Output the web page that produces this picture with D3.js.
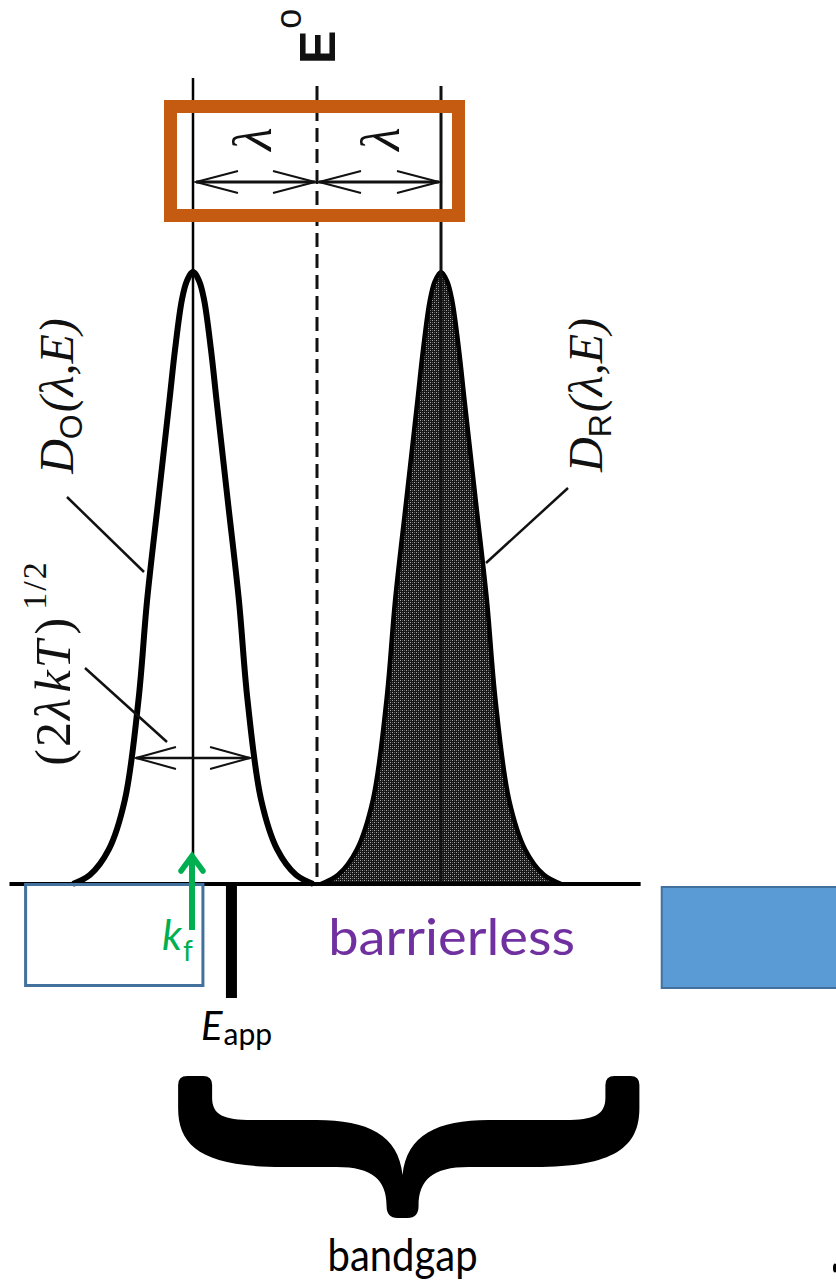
<!DOCTYPE html>
<html><head><meta charset="utf-8">
<script src="https://cdn.jsdelivr.net/npm/d3@7"></script>
<style>html,body{margin:0;padding:0;background:#fff;} svg{display:block;}</style>
</head><body>
<script>
// ---------------- data (energies in units of λ relative to E°) ----------------
const peakNames = ["O", "R"];
const peakCenters = [-1, 1];
const E0 = 0;
const profileOffsets = [0, 0.05, 0.09, 0.145, 0.19, 0.28, 0.37, 0.44, 0.55, 0.68, 0.83, 0.97];
const profileDensity = [1.0, 0.985, 0.954, 0.873, 0.79, 0.627, 0.464, 0.30, 0.137, 0.056, 0.015, 0];
const widthArrowDensity = 0.206;
const widthArrowHalf = 0.46;
const baselineRange = [-2.48, 2.61];
const Eapp = -0.69;
const kfPosition = -1;
const leftBoxRange = [-2.35, -0.92];
const rightBoxRange = [2.78, 4.3];
const bandgapRange = [-1.12, 2.6];
const bandgapCenter = 0.69;
const barrierlessRange = [0.09, 2.08];

// ---------------- setup ----------------
const W = 836, H = 1281;
const svg = d3.select("body").append("svg").attr("width", W).attr("height", H);
const x = d3.scaleLinear().domain([-1, 1]).range([193, 441]);
const y = d3.scaleLinear().domain([0, 1]).range([884, 272]);
const defs = svg.append("defs");

const pat = defs.append("pattern").attr("id", "stip").attr("width", 4).attr("height", 4)
  .attr("patternUnits", "userSpaceOnUse");
pat.append("rect").attr("width", 4).attr("height", 4).attr("fill", "#161616");
pat.append("rect").attr("x", 0).attr("y", 0).attr("width", 1).attr("height", 1).attr("fill", "#a8a8a8");
pat.append("rect").attr("x", 2).attr("y", 2).attr("width", 1).attr("height", 1).attr("fill", "#a8a8a8");
pat.append("rect").attr("x", 2).attr("y", 0).attr("width", 1).attr("height", 1).attr("fill", "#5a5a5a");
pat.append("rect").attr("x", 0).attr("y", 2).attr("width", 1).attr("height", 1).attr("fill", "#5a5a5a");

function peakPoints(c) {
  const pts = [];
  for (let i = profileOffsets.length - 1; i >= 0; i--) pts.push([c - profileOffsets[i], profileDensity[i]]);
  for (let i = 1; i < profileOffsets.length; i++) pts.push([c + profileOffsets[i], profileDensity[i]]);
  return pts;
}
const crv = d3.curveCatmullRom.alpha(0.5);
const line = d3.line().x(d => x(d[0])).y(d => y(d[1])).curve(crv);
const area = d3.area().x(d => x(d[0])).y0(y(0)).y1(d => y(d[1])).curve(crv);

// ---------------- curves ----------------
const ptsO = peakPoints(peakCenters[0]);
const ptsR = peakPoints(peakCenters[1]);

svg.append("path").attr("d", area(ptsR)).attr("fill", "url(#stip)");
svg.append("path").attr("d", line(ptsR)).attr("fill", "none").attr("stroke", "#000").attr("stroke-width", 4.5);
svg.append("path").attr("d", line(ptsO)).attr("fill", "none").attr("stroke", "#000").attr("stroke-width", 6);

// ---------------- vertical lines ----------------
svg.append("line").attr("x1", x(peakCenters[0])).attr("x2", x(peakCenters[0]))
  .attr("y1", 78).attr("y2", y(0)).attr("stroke", "#000").attr("stroke-width", 2.5);
svg.append("line").attr("x1", x(peakCenters[1])).attr("x2", x(peakCenters[1]))
  .attr("y1", 86).attr("y2", y(0)).attr("stroke", "#111").attr("stroke-width", 3);
svg.append("line").attr("x1", x(E0)).attr("x2", x(E0))
  .attr("y1", 86).attr("y2", y(0)).attr("stroke", "#111").attr("stroke-width", 3)
  .attr("stroke-dasharray", "14,7");

// ---------------- baseline ----------------
svg.append("line").attr("x1", x(baselineRange[0])).attr("x2", x(baselineRange[1]))
  .attr("y1", y(0)).attr("y2", y(0)).attr("stroke", "#000").attr("stroke-width", 4);

// ---------------- double arrows ----------------
function dblArrow(x1, x2, yy, adx, ady, sw) {
  const g = svg.append("g").attr("stroke", "#111").attr("fill", "none");
  g.append("line").attr("x1", x1).attr("x2", x2).attr("y1", yy).attr("y2", yy).attr("stroke-width", sw);
  g.append("path").attr("d", `M${x1 + adx},${yy - ady}L${x1},${yy}L${x1 + adx},${yy + ady}`).attr("stroke-width", 2);
  g.append("path").attr("d", `M${x2 - adx},${yy - ady}L${x2},${yy}L${x2 - adx},${yy + ady}`).attr("stroke-width", 2);
}
dblArrow(x(peakCenters[0]) + 3, x(E0) - 2, 182, 42, 11, 3);
dblArrow(x(E0) + 2, x(peakCenters[1]) - 2, 182, 42, 11, 3);
dblArrow(x(peakCenters[0] - widthArrowHalf), x(peakCenters[0] + widthArrowHalf), y(widthArrowDensity), 40, 11, 2.5);

// ---------------- orange box ----------------
svg.append("rect").attr("x", 170.5).attr("y", 106.5).attr("width", 288).attr("height", 109)
  .attr("fill", "none").attr("stroke", "#c55a11").attr("stroke-width", 13);

// ---------------- labels (rotated, from the original figure) ----------------
const serif = "'Liberation Serif', 'Times New Roman', serif";
function rotText(tx, ty, anchor) {
  return svg.append("text").attr("transform", `translate(${tx},${ty}) rotate(-90)`)
    .attr("text-anchor", anchor).attr("font-family", serif).attr("fill", "#111");
}
// λ labels
rotText(271, 139, "middle").attr("font-size", 54).attr("font-style", "italic").text("λ");
rotText(399, 139, "middle").attr("font-size", 54).attr("font-style", "italic").text("λ");

// E° label: bold E with a superscript ring
const e0 = svg.append("text").attr("transform", `translate(335,64) rotate(-90)`)
  .attr("font-family", "'Liberation Sans', Arial, sans-serif").attr("fill", "#111");
e0.append("tspan").attr("font-size", 50).attr("font-weight", "bold").text("E");
e0.append("tspan").attr("font-size", 36).attr("dy", -34).attr("dx", 2).text("o");

// D_O(λ,E)
const dO = rotText(73, 396, "middle").attr("font-size", 48);
dO.append("tspan").attr("font-style", "italic").text("D");
dO.append("tspan").attr("font-size", 32).attr("dy", 9).attr("font-family", "'Liberation Sans', Arial, sans-serif").text(peakNames[0]);
dO.append("tspan").attr("dy", -9).attr("font-style", "italic").attr("dx", 2).text("(λ,E)");

// D_R(λ,E)
const dR = rotText(602, 395, "middle").attr("font-size", 48);
dR.append("tspan").attr("font-style", "italic").text("D");
dR.append("tspan").attr("font-size", 32).attr("dy", 9).attr("font-family", "'Liberation Sans', Arial, sans-serif").text(peakNames[1]);
dR.append("tspan").attr("dy", -9).attr("font-style", "italic").attr("dx", 2).text("(λ,E)");

// (2λkT)^1/2
const wl = rotText(70, 663, "middle").attr("font-size", 50).attr("letter-spacing", 2);
wl.append("tspan").text("(2");
wl.append("tspan").attr("font-style", "italic").text("λ");
wl.append("tspan").attr("font-style", "italic").attr("dx", 4).text("kT");
wl.append("tspan").attr("dx", 4).text(")");
wl.append("tspan").attr("font-size", 34).attr("dy", -24).attr("dx", 6).text("1/2");

// leader lines
const leaders = [[67, 497, 144, 572], [85, 668, 167, 742], [568, 488, 486, 563]];
leaders.forEach(l => svg.append("line").attr("x1", l[0]).attr("y1", l[1]).attr("x2", l[2]).attr("y2", l[3])
  .attr("stroke", "#111").attr("stroke-width", 2.5));

// ---------------- boxes ----------------
svg.append("rect").attr("x", x(leftBoxRange[0])).attr("y", y(0) + 0.5)
  .attr("width", x(leftBoxRange[1]) - x(leftBoxRange[0])).attr("height", 101)
  .attr("fill", "none").attr("stroke", "#41719c").attr("stroke-width", 3);
svg.append("rect").attr("x", x(rightBoxRange[0])).attr("y", y(0) + 3)
  .attr("width", x(rightBoxRange[1]) - x(rightBoxRange[0])).attr("height", 101)
  .attr("fill", "#5b9bd5").attr("stroke", "#41719c").attr("stroke-width", 2);

// ---------------- E_app bar ----------------
svg.append("rect").attr("x", x(Eapp) - 5.5).attr("y", y(0)).attr("width", 11).attr("height", 114).attr("fill", "#000");

// ---------------- k_f arrow ----------------
const kx = x(kfPosition) - 1;
svg.append("line").attr("x1", kx).attr("x2", kx).attr("y1", 930).attr("y2", 856)
  .attr("stroke", "#00b050").attr("stroke-width", 6);
svg.append("path").attr("d", `M${kx - 11},${871}L${kx},${856}L${kx + 11},${871}`)
  .attr("fill", "none").attr("stroke", "#00b050").attr("stroke-width", 5.5).attr("stroke-linecap", "round");

const sans = "Lato, 'Open Sans', sans-serif";
const kf = svg.append("text").attr("x", 162).attr("y", 950).attr("font-family", sans).attr("fill", "#00b050").attr("font-size", 42);
kf.append("tspan").attr("font-style", "italic").text("k");
kf.append("tspan").attr("font-size", 28).attr("dy", 11).attr("dx", 1).text("f");

const ea = svg.append("text").attr("x", 201).attr("y", 1040).attr("font-family", sans).attr("fill", "#000").attr("font-size", 40);
ea.append("tspan").attr("font-style", "italic").text("E");
ea.append("tspan").attr("font-size", 30).attr("dy", 5).attr("dx", 1).text("app");

// barrierless
svg.append("text").attr("x", x(barrierlessRange[0])).attr("y", 955).attr("font-family", sans)
  .attr("font-size", 51).attr("fill", "#7030a0")
  .attr("textLength", x(barrierlessRange[1]) - x(barrierlessRange[0])).attr("lengthAdjust", "spacingAndGlyphs")
  .text("barrierless");

// ---------------- bandgap brace ----------------
(function () {
  const L = x(bandgapRange[0]), R = x(bandgapRange[1]), cx = x(bandgapCenter);
  const T = 1076, w = 34, bt = 1120, bb = 1167, cusp = 1175, tip = 1218, th = 16;
  const d = [
    `M${L},${T + 9}`, `Q${L},${T} ${L + 9},${T}`, `L${L + w - 9},${T}`, `Q${L + w},${T} ${L + w},${T + 9}`,
    `L${L + w},${bt - 22}`, `C${L + w},${bt - 5} ${L + w + 12},${bt} ${L + w + 40},${bt}`,
    `L${cx - 86},${bt}`, `C${cx - 35},${bt} ${cx - 4},${bt + 15} ${cx},${cusp}`,
    `C${cx + 4},${bt + 15} ${cx + 35},${bt} ${cx + 86},${bt}`,
    `L${R - w - 40},${bt}`, `C${R - w - 12},${bt} ${R - w},${bt - 5} ${R - w},${bt - 22}`,
    `L${R - w},${T + 9}`, `Q${R - w},${T} ${R - w + 9},${T}`, `L${R - 9},${T}`, `Q${R},${T} ${R},${T + 9}`,
    `L${R},${bt - 12}`, `C${R},${bb - 20} ${R - 25},${bb} ${R - 105},${bb}`,
    `L${cx + 66},${bb}`, `C${cx + 30},${bb} ${cx + th},${bb + 13} ${cx + th},${tip - 12}`,
    `Q${cx + th},${tip} ${cx + 5},${tip}`, `L${cx - 5},${tip}`, `Q${cx - th},${tip} ${cx - th},${tip - 12}`,
    `C${cx - th},${bb + 13} ${cx - 30},${bb} ${cx - 66},${bb}`,
    `L${L + 105},${bb}`, `C${L + 25},${bb} ${L},${bb - 20} ${L},${bt - 12}`, "Z"
  ].join("");
  svg.append("path").attr("d", d).attr("fill", "#000");
  svg.append("text").attr("x", cx).attr("y", 1271).attr("text-anchor", "middle")
    .attr("font-family", sans).attr("font-size", 45).attr("fill", "#000")
    .attr("textLength", 150).attr("lengthAdjust", "spacingAndGlyphs").text("bandgap");
})();

// small cut-off mark at bottom right
svg.append("ellipse").attr("cx", 835).attr("cy", 1268).attr("rx", 2).attr("ry", 4.5).attr("fill", "#000");
</script>
</body></html>
